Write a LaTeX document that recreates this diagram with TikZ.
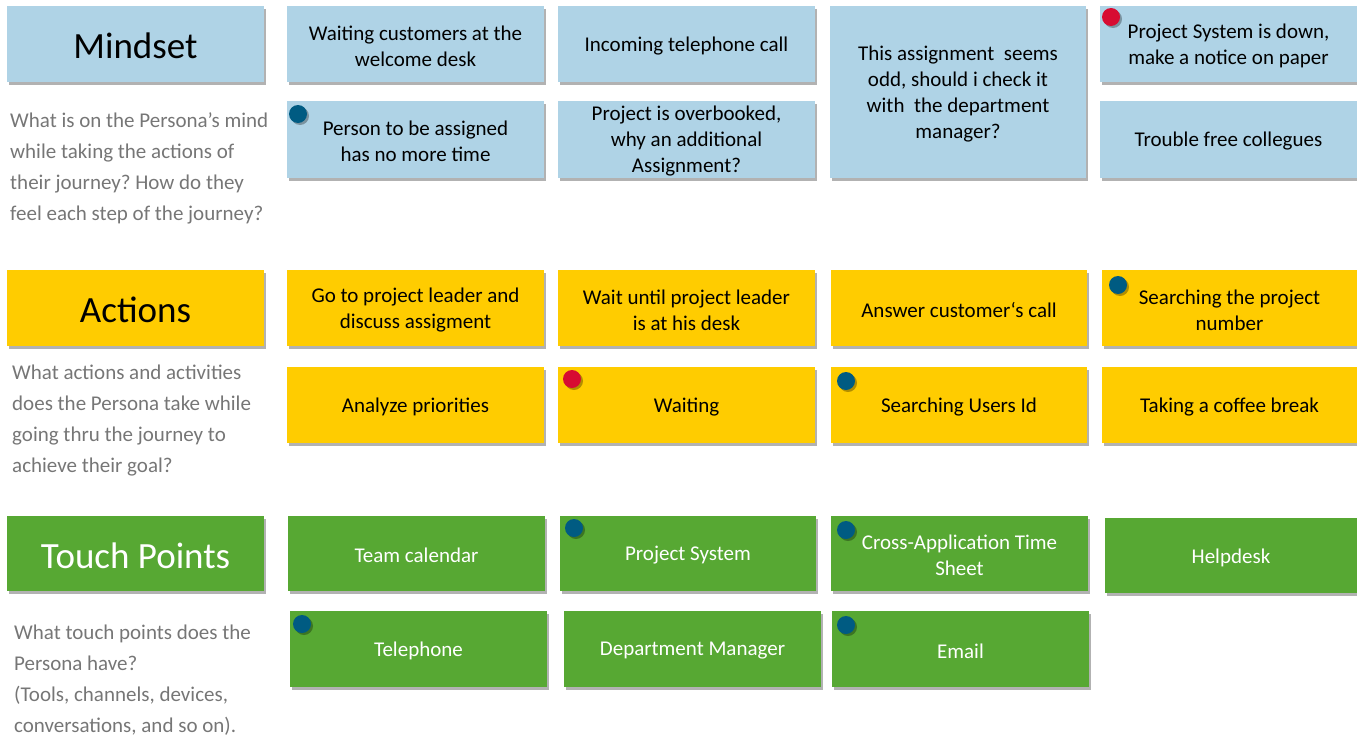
\documentclass[tikz,border=0pt]{standalone}
\usepackage{fontspec}
\setmainfont{Carlito}
\frenchspacing
\usetikzlibrary{shadows}
\definecolor{cblue}{RGB}{175,211,230}
\definecolor{cyellow}{RGB}{255,204,0}
\definecolor{cgreen}{RGB}{87,168,51}
\definecolor{cdesc}{RGB}{118,118,118}
\definecolor{dotblue}{RGB}{0,91,130}
\definecolor{dotred}{RGB}{215,12,50}
% #1 name, #2 box style, #3 text style, #4-#7 x1 y1 x2 y2, #8 text
\newcommand\card[8]{%
  \node[#2, minimum width={(#6-#4)*1pt}, minimum height={(#7-#5)*1pt}]
    (#1) at ({(#4+#6)/2},{(#5+#7)/2}) {};
  \node[#3] (#1-t) at ([yshift=-2pt]#1.center) {#8};}
\tikzset{
  cardbase/.style={rectangle, inner sep=0pt,
    drop shadow={shadow xshift=2pt, shadow yshift=-3pt, opacity=0.3, fill=black}},
  bluecard/.style={cardbase, fill=cblue},
  yellowcard/.style={cardbase, fill=cyellow},
  greencard/.style={cardbase, fill=cgreen},
  cardtext/.style={inner sep=0pt, align=center, text=black,
    font=\fontsize{21}{26}\selectfont},
  whitetext/.style={cardtext, text=white},
  headtext/.style={cardtext, font=\fontsize{37}{44}\selectfont},
  whitehead/.style={headtext, text=white},
  desc/.style={anchor=base west, align=left, inner sep=0pt, text=cdesc,
    font=\fontsize{21}{30.8}\selectfont},
  bdot/.style={circle, inner sep=0pt, minimum size=18pt, fill=dotblue,
    drop shadow={shadow xshift=2pt, shadow yshift=-2pt, opacity=0.3, fill=black}},
  rdot/.style={bdot, fill=dotred},
}
\begin{document}
\begin{tikzpicture}[x=1pt, y=-1pt]
\useasboundingbox (0,0) rectangle (1357,736);
% Mindset row
\card{hm}{bluecard}{headtext}{7}{6}{264}{82}{Mindset}
\card{m1}{bluecard}{cardtext}{287}{6}{544}{82}{Waiting customers at the\\welcome desk}
\card{m2}{bluecard}{cardtext}{558}{6}{815}{82}{Incoming telephone call}
\card{m3}{bluecard}{cardtext}{830}{6}{1086}{178}{This assignment\ \ seems\\odd, should i check it\\with\ \ the department\\manager?}
\card{m4}{bluecard}{cardtext}{1100}{6}{1357}{82}{Project System is down,\\make a notice on paper}
\card{m5}{bluecard}{cardtext}{287}{101}{544}{178}{Person to be assigned\\has no more time}
\card{m6}{bluecard}{cardtext}{558}{101}{815}{178}{Project is overbooked,\\why an additional\\Assignment?}
\card{m7}{bluecard}{cardtext}{1100}{101}{1357}{178}{Trouble free collegues}
\node[desc] (dm) at (10,220) {What is on the Persona’s mind\\while taking the actions of\\their journey? How do they\\feel each step of the journey?};
% Actions row
\card{ha}{yellowcard}{headtext}{7}{270}{264}{346}{Actions}
\card{a1}{yellowcard}{cardtext}{287}{270}{544}{346}{Go to project leader and\\discuss assigment}
\card{a2}{yellowcard}{cardtext}{558}{270}{815}{346}{Wait until project leader\\is at his desk}
\card{a3}{yellowcard}{cardtext}{831}{270}{1087}{346}{Answer customer‘s call}
\card{a4}{yellowcard}{cardtext}{1102}{270}{1357}{346}{Searching the project\\number}
\card{a5}{yellowcard}{cardtext}{287}{367}{544}{443}{Analyze priorities}
\card{a6}{yellowcard}{cardtext}{558}{367}{815}{443}{Waiting}
\card{a7}{yellowcard}{cardtext}{831}{367}{1087}{443}{Searching Users Id}
\card{a8}{yellowcard}{cardtext}{1102}{367}{1357}{443}{Taking a coffee break}
\node[desc] (da) at (12,472) {What actions and activities\\does the Persona take while\\going thru the journey to\\achieve their goal?};
% Touch points row
\card{ht}{greencard}{whitehead}{7}{516}{264}{591}{Touch Points}
\card{t1}{greencard}{whitetext}{288}{516}{545}{591}{Team calendar}
\card{t2}{greencard}{whitetext}{560}{516}{816}{591}{Project System}
\card{t3}{greencard}{whitetext}{831}{516}{1088}{591}{Cross-Application Time\\Sheet}
\card{t4}{greencard}{whitetext}{1105}{518}{1357}{593}{Helpdesk}
\card{t5}{greencard}{whitetext}{290}{611}{547}{687}{Telephone}
\card{t6}{greencard}{whitetext}{564}{611}{821}{687}{Department Manager}
\card{t7}{greencard}{whitetext}{832}{611}{1089}{687}{Email}
\node[desc] (dt) at (14,732) {What touch points does the\\Persona have?\\(Tools, channels, devices,\\conversations, and so on).};
% dots
\node[bdot] (d1) at (298,114) {};
\node[rdot] (d2) at (1111,17) {};
\node[bdot] (d3) at (1118,285) {};
\node[rdot] (d4) at (572,379) {};
\node[bdot] (d5) at (846,381) {};
\node[bdot] (d6) at (574,528) {};
\node[bdot] (d7) at (846,530) {};
\node[bdot] (d8) at (302,624) {};
\node[bdot] (d9) at (846,625) {};
\end{tikzpicture}
\end{document}
